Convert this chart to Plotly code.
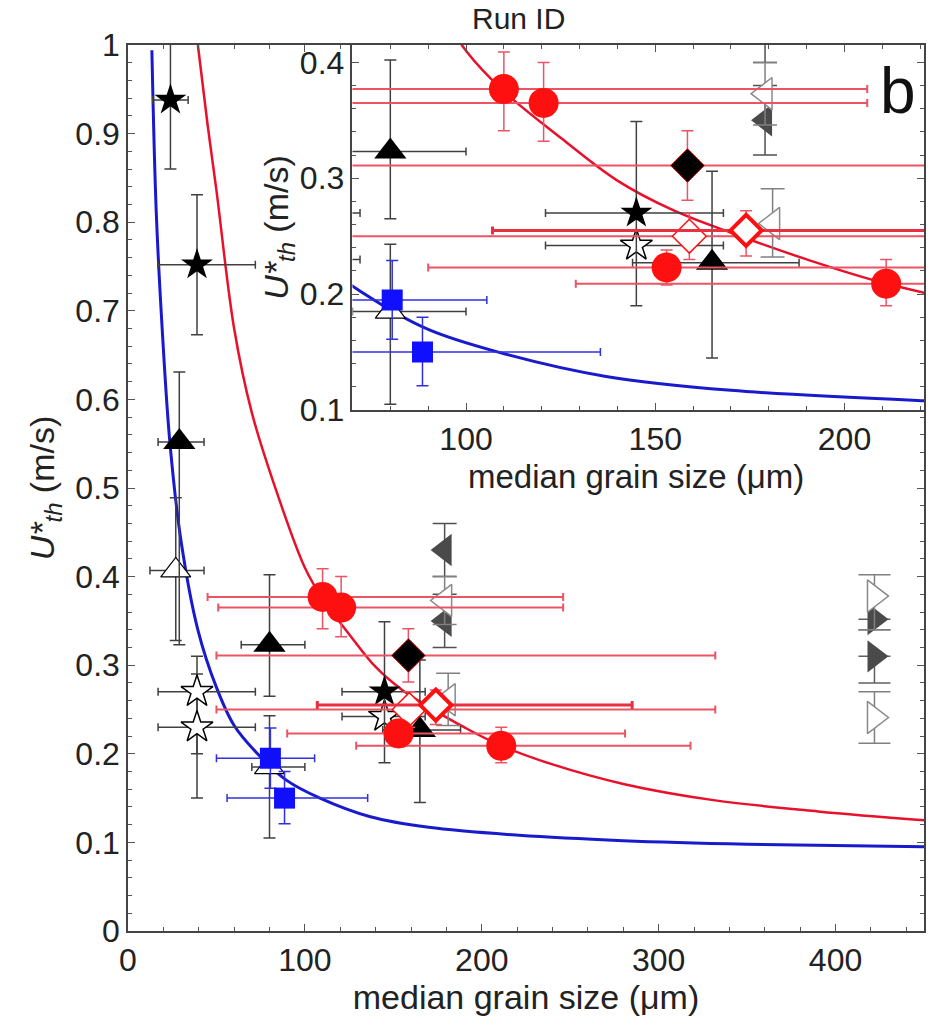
import plotly.graph_objects as go

# ---------------- data ----------------
# model curves (sampled by eye)
red_curve_d = [39.5, 45, 50, 60, 70, 85, 100, 110, 125, 140, 155, 170, 190, 210, 240, 280, 330, 390, 450]
red_curve_u = [1.0, 0.91, 0.836, 0.68, 0.585, 0.49, 0.41, 0.375, 0.335, 0.298, 0.272, 0.253, 0.230, 0.210,
               0.188, 0.166, 0.148, 0.135, 0.125]
blue_curve_d = [13.5, 16, 19.7, 23.7, 30, 39.5, 50, 60, 72.8, 89.7, 108.5, 137, 170, 221, 280, 350, 450]
blue_curve_u = [0.994, 0.81, 0.667, 0.551, 0.44, 0.34, 0.275, 0.232, 0.201, 0.170, 0.150, 0.129, 0.117,
                0.108, 0.102, 0.098, 0.095]

# filled black stars
bstar_d = [24, 39, 145]
bstar_u = [0.938, 0.752, 0.270]
bstar_xm = [10, 22, 24]
bstar_xp = [10, 33, 23]
bstar_ym = [0.078, 0.079, 0.080]
bstar_yp = [0.07, 0.079, 0.079]

# open stars
ostar_d = [39, 39, 145]
ostar_u = [0.270, 0.230, 0.242]
ostar_xm = [22, 22, 24]
ostar_xp = [33, 33, 23]
ostar_ym = [0.07, 0.08, 0.0]
ostar_yp = [0.04, 0.06, 0.0]

# filled black triangles
btri_d = [29, 80, 165]
btri_u = [0.552, 0.323, 0.227]
btri_xm = [12, 16, 21]
btri_xp = [14, 20, 23]
btri_ym = [0.229, 0.058, 0.082]
btri_yp = [0.079, 0.079, 0.079]

# open black triangles
otri_d = [27, 80]
otri_u = [0.407, 0.185]
otri_xm = [14.6, 10]
otri_xp = [16, 20]
otri_ym = [0.079, 0.08]
otri_yp = [0.082, 0.058]

# blue squares
bsq_d = [80.5, 88.5]
bsq_u = [0.195, 0.150]
bsq_xm = [30.5, 32.5]
bsq_xp = [25, 47]
bsq_ym = [0.034, 0.029]
bsq_yp = [0.034, 0.030]

# red circles
rc_d = [110, 120.5, 153, 211]
rc_u = [0.377, 0.365, 0.223, 0.209]
rc_xm = [65, 69.5, 63, 82]
rc_xp = [136, 125.5, 128, 107]
rc_xp_inset = [96, 85.5, 128, 107]   # the inset draws the two upper bars shorter
rc_ym = [0.036, 0.033, 0.015, 0.019]
rc_yp = [0.032, 0.035, 0.015, 0.021]

# filled black diamond
bdia_d = [158.5]
bdia_u = [0.311]
bdia_xm = [108.5]
bdia_xp = [173.5]
bdia_ym = [0.03]
bdia_yp = [0.03]

# open diamond (thin red outline)
odia_d = [159]
odia_u = [0.250]
odia_xm = [109]
odia_xp = [173]
odia_ym = [0.02]
odia_yp = [0.02]

# thick red open diamond
rdia_d = [174]
rdia_u = [0.255]
rdia_xm = [67]
rdia_xp = [111]
rdia_ym = [0.022]
rdia_yp = [0.017]

# dark grey left triangles
gtl_d = [179, 179]
gtl_u = [0.43, 0.35]
gtl_ym = [0.03, 0.03]
gtl_yp = [0.03, 0.03]

# open grey left triangles
otl_d = [179, 181]
otl_u = [0.373, 0.261]
otl_ym = [0.027, 0.029]
otl_yp = [0.027, 0.030]

# dark grey right triangles
gtr_d = [422, 422]
gtr_u = [0.352, 0.310]
gtr_ym = [0.012, 0.03]
gtr_yp = [0.0, 0.0]

# open grey right triangles
otr_d = [422, 422]
otr_u = [0.378, 0.241]
otr_ym = [0.038, 0.029]
otr_yp = [0.024, 0.029]

FONT = "Liberation Sans, Arial, sans-serif"
RED = "#ff1010"
RED_ERR = "#ec5464"
BLUE = "#1010ff"
BLACK = "#000000"
GREY_ERR = "#404040"

fig = go.Figure()

AXES = [("x", "y"), ("x2", "y2")]


def curve(d, u, color, width):
    for xa, ya in AXES:
        fig.add_trace(go.Scatter(x=d, y=u, mode="lines", line=dict(color=color, width=width, shape="spline"),
                                 xaxis=xa, yaxis=ya, showlegend=False, hoverinfo="skip"))


def group(d, u, marker, xm=None, xp=None, ym=None, yp=None, xcol=GREY_ERR, ycol=GREY_ERR,
          xthick=1.5, ythick=1.5, capw=6, xp_inset=None):
    for xa, ya in AXES:
        ex = None
        ey = None
        if xm is not None:
            plus = xp_inset if (xa == "x2" and xp_inset is not None) else xp
            ex = dict(type="data", symmetric=False, array=plus, arrayminus=xm, color=xcol,
                      thickness=xthick, width=4)
        if ym is not None:
            ey = dict(type="data", symmetric=False, array=yp, arrayminus=ym, color=ycol,
                      thickness=ythick, width=capw)
        fig.add_trace(go.Scatter(x=d, y=u, mode="markers", marker=marker, error_x=ex, error_y=ey,
                                 xaxis=xa, yaxis=ya, showlegend=False))


curve(blue_curve_d, blue_curve_u, "#1a1acd", 3)
curve(red_curve_d, red_curve_u, "#e8102a", 2.5)

group(gtl_d, gtl_u, dict(symbol="triangle-left", size=28, color="#4a4a4a", line=dict(color="#4a4a4a", width=0)),
      None, None, gtl_ym, gtl_yp, ycol="#505050", capw=12)
group(otl_d, otl_u, dict(symbol="triangle-left", size=28, color="white", line=dict(color="#8a8a8a", width=1.5)),
      None, None, otl_ym, otl_yp, ycol="#808080", capw=12)
group(gtr_d, gtr_u, dict(symbol="triangle-right", size=28, color="#4a4a4a", line=dict(color="#4a4a4a", width=0)),
      None, None, gtr_ym, gtr_yp, ycol="#606060", capw=16)
group(otr_d, otr_u, dict(symbol="triangle-right", size=28, color="white", line=dict(color="#8a8a8a", width=1.5)),
      None, None, otr_ym, otr_yp, ycol="#808080", capw=16)
group(otri_d, otri_u, dict(symbol="triangle-up", size=26, color="white", line=dict(color=BLACK, width=1.2)),
      otri_xm, otri_xp, otri_ym, otri_yp)
group(btri_d, btri_u, dict(symbol="triangle-up", size=28, color=BLACK, line=dict(color=BLACK, width=0)),
      btri_xm, btri_xp, btri_ym, btri_yp)
group(ostar_d, ostar_u, dict(symbol="star", size=24, color="white", line=dict(color=BLACK, width=1.5)),
      ostar_xm, ostar_xp, ostar_ym, ostar_yp)
group(bstar_d, bstar_u, dict(symbol="star", size=24, color=BLACK, line=dict(color=BLACK, width=0)),
      bstar_xm, bstar_xp, bstar_ym, bstar_yp)
group(bdia_d, bdia_u, dict(symbol="diamond", size=26, color=BLACK, line=dict(color=RED, width=1)),
      bdia_xm, bdia_xp, bdia_ym, bdia_yp, xcol=RED_ERR, ycol=RED_ERR, xthick=2)
group(odia_d, odia_u, dict(symbol="diamond", size=26, color="white", line=dict(color=RED, width=1.5)),
      odia_xm, odia_xp, odia_ym, odia_yp, xcol=RED_ERR, ycol=RED_ERR, xthick=2)
group(rdia_d, rdia_u, dict(symbol="diamond", size=24, color="white", line=dict(color=RED, width=4)),
      rdia_xm, rdia_xp, rdia_ym, rdia_yp, xcol="#e83040", ycol=RED_ERR, xthick=3)
group(rc_d, rc_u, dict(symbol="circle", size=30, color=RED, line=dict(color=RED, width=0)),
      rc_xm, rc_xp, rc_ym, rc_yp, xcol=RED_ERR, ycol=RED_ERR, xthick=2, xp_inset=rc_xp_inset)
group(bsq_d, bsq_u, dict(symbol="square", size=21, color=BLUE, line=dict(color=BLUE, width=0)),
      bsq_xm, bsq_xp, bsq_ym, bsq_yp, xcol="#3030e0", ycol="#3030e0")

axis_common = dict(showline=True, linecolor="#444444", linewidth=1.5, mirror="ticks", ticks="inside",
                   ticklen=7, tickwidth=1, tickcolor="#555555", showgrid=False, zeroline=False,
                   tickfont=dict(family=FONT, size=32, color="#222222"))

ytitle = "<i>U*</i><sub><i>th</i></sub> (m/s)"
xtitle = "median grain size (μm)"

fig.update_layout(
    width=928, height=1024,
    margin=dict(l=128, r=2, t=45, b=93),
    paper_bgcolor="white", plot_bgcolor="white",
    font=dict(family=FONT, color="#222222"),
    xaxis=dict(domain=[0, 1], range=[0, 450], dtick=100, tick0=0,
               minor=dict(ticks="inside", dtick=20, ticklen=4, tickcolor="#555555"),
               title=dict(text=xtitle, font=dict(family=FONT, size=34), standoff=4),
               **axis_common),
    yaxis=dict(domain=[0, 1], range=[0, 1], dtick=0.1, tick0=0,
               minor=dict(ticks="inside", dtick=0.02, ticklen=4, tickcolor="#555555"),
               title=dict(text=ytitle, font=dict(family=FONT, size=34), standoff=10),
               **axis_common),
    xaxis2=dict(domain=[0.282, 1], anchor="y2", range=[70, 221], dtick=50, tick0=0,
                minor=dict(ticks="inside", dtick=10, ticklen=4, tickcolor="#555555"),
                **axis_common),
    yaxis2=dict(domain=[0.588, 1], anchor="x2", range=[0.1, 0.415], dtick=0.1, tick0=0,
                minor=dict(ticks="inside", dtick=0.02, ticklen=4, tickcolor="#555555"),
                title=dict(text=ytitle, font=dict(family=FONT, size=34), standoff=0),
                **axis_common),
    annotations=[
        dict(text=xtitle, xref="paper", yref="paper", x=0.638, y=0.5135, yanchor="middle",
             showarrow=False, font=dict(family=FONT, size=33, color="#222222")),
        dict(text="b", xref="paper", yref="paper", x=1, y=1, xanchor="right", yanchor="top",
             xshift=-6, yshift=-8, showarrow=False,
             font=dict(family=FONT, size=64, color="#111111")),
        dict(text="Run ID", xref="paper", yref="paper", x=0.49, y=1.0508, yanchor="top",
             showarrow=False, font=dict(family=FONT, size=30, color="#222222")),
    ],
)

fig.write_html("out.html")
